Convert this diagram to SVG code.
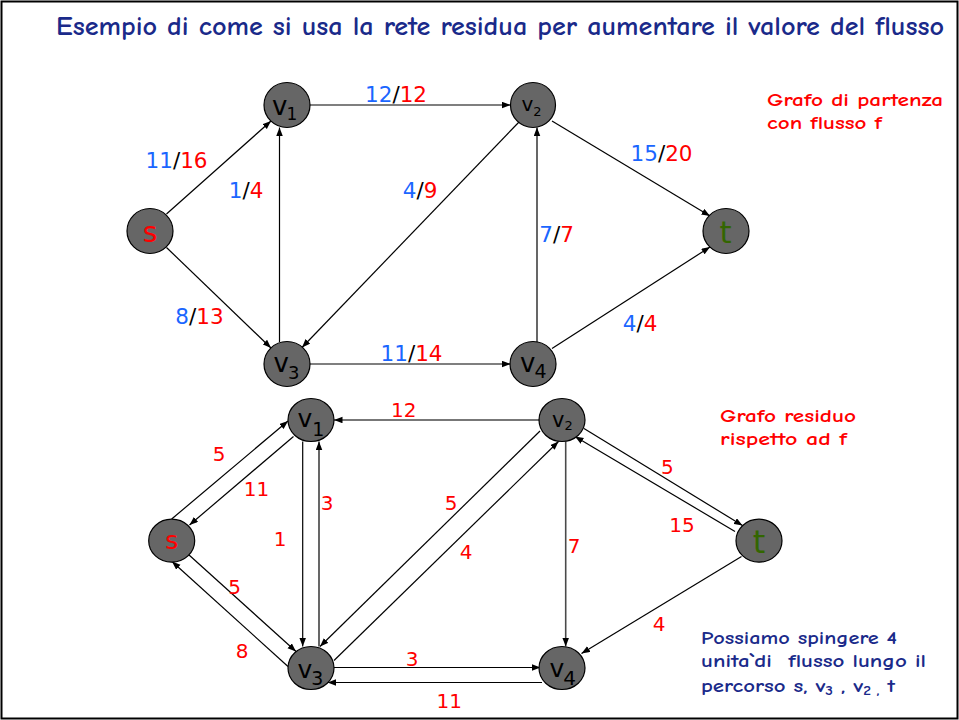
<svg xmlns="http://www.w3.org/2000/svg" width="959" height="720" viewBox="0 0 959 720">
<style>
.e{stroke:#000;stroke-width:1.2;fill:none;marker-end:url(#ah)}
.eg{stroke:#4a4a4a;stroke-width:1.6;fill:none;marker-end:url(#ah)}
.n{fill:#666666;stroke:#000;stroke-width:1.2}
.nl{font-family:"DejaVu Sans",Verdana,sans-serif;fill:#000}
.lb{font-family:"DejaVu Sans",Verdana,sans-serif;font-size:21.5px;text-anchor:middle;fill:#000}
.lr{font-family:"DejaVu Sans",Verdana,sans-serif;font-size:20px;text-anchor:middle;fill:#ff0000}
.b{fill:#1a66ff}
.r{fill:#ff0000}
.cm{font-family:"Comic Neue","Open Sans","DejaVu Sans",sans-serif;font-weight:700}
.nt{font-size:19px}
</style>
<defs>
<marker id="ah" markerUnits="userSpaceOnUse" markerWidth="9" markerHeight="7" refX="8.5" refY="3.25" orient="auto">
<path d="M0,0 L8.5,3.25 L0,6.5 z" fill="#000"/>
</marker>
</defs>
<rect x="1.5" y="1.5" width="956" height="717" fill="#fff" stroke="#000" stroke-width="2"/>
<text x="56" y="35" class="cm" font-size="27" fill="#1a2a8a" textLength="888" lengthAdjust="spacingAndGlyphs">Esempio di come si usa la rete residua per aumentare il valore del flusso</text>

<g id="edges">
<line class="e" x1="166.5" y1="214" x2="271" y2="121"/>
<line class="e" x1="166.5" y1="247.5" x2="271" y2="348"/>
<line class="e" x1="279.5" y1="342" x2="279.5" y2="127.5"/>
<line class="e" x1="309.5" y1="105" x2="510.5" y2="105"/>
<line class="e" x1="519" y1="122" x2="302" y2="347.5"/>
<line class="e" x1="309.5" y1="364" x2="510.5" y2="364"/>
<line class="e" x1="537" y1="342" x2="537" y2="127.5"/>
<line class="e" x1="552" y1="121" x2="710" y2="216"/>
<line class="e" x1="552" y1="348.5" x2="710" y2="247"/>

<line class="e" x1="171.7" y1="519" x2="288" y2="421"/>
<line class="e" x1="293.5" y1="436.5" x2="189.5" y2="525"/>
<line class="e" x1="302.7" y1="441.5" x2="302.7" y2="646.5"/>
<line class="e" x1="319" y1="646.5" x2="319" y2="441.5"/>
<line class="e" x1="188.5" y1="554.5" x2="296" y2="651.5"/>
<line class="e" x1="288" y1="666.5" x2="172" y2="561.5"/>
<line class="eg" x1="543" y1="420" x2="334" y2="420"/>
<line class="e" x1="540" y1="431" x2="320" y2="646.5"/>
<line class="e" x1="334" y1="660.5" x2="558.5" y2="441.5"/>
<line class="e" x1="334" y1="667.5" x2="540.5" y2="667.5"/>
<line class="e" x1="542" y1="682.5" x2="327.5" y2="682.5"/>
<line class="eg" x1="565.7" y1="441.5" x2="565.7" y2="646.5"/>
<line class="e" x1="584" y1="428.5" x2="742.5" y2="525.5"/>
<line class="e" x1="735" y1="531.5" x2="575" y2="436.5"/>
<line class="e" x1="741.5" y1="556.5" x2="581.5" y2="653.5"/>
</g>

<g id="edge-labels">
<text class="lb" x="396" y="101.5"><tspan class="b">12</tspan>/<tspan class="r">12</tspan></text>
<text class="lb" x="176.5" y="168"><tspan class="b">11</tspan>/<tspan class="r">16</tspan></text>
<text class="lb" x="246" y="198"><tspan class="b">1</tspan>/<tspan class="r">4</tspan></text>
<text class="lb" x="420" y="198"><tspan class="b">4</tspan>/<tspan class="r">9</tspan></text>
<text class="lb" x="556.5" y="241.5"><tspan class="b">7</tspan>/<tspan class="r">7</tspan></text>
<text class="lb" x="199.5" y="324"><tspan class="b">8</tspan>/<tspan class="r">13</tspan></text>
<text class="lb" x="411.5" y="360.5"><tspan class="b">11</tspan>/<tspan class="r">14</tspan></text>
<text class="lb" x="661.5" y="160.5"><tspan class="b">15</tspan>/<tspan class="r">20</tspan></text>
<text class="lb" x="640" y="330.5"><tspan class="b">4</tspan>/<tspan class="r">4</tspan></text>

<text class="lr" x="403.7" y="417.3">12</text>
<text class="lr" x="219" y="461">5</text>
<text class="lr" x="256.5" y="495.7">11</text>
<text class="lr" x="327" y="510">3</text>
<text class="lr" x="280" y="545.7">1</text>
<text class="lr" x="451" y="510">5</text>
<text class="lr" x="466" y="559">4</text>
<text class="lr" x="234.5" y="594">5</text>
<text class="lr" x="242" y="658">8</text>
<text class="lr" x="412" y="665.7">3</text>
<text class="lr" x="449.3" y="708">11</text>
<text class="lr" x="574" y="552.7">7</text>
<text class="lr" x="667.3" y="474">5</text>
<text class="lr" x="682" y="531.7">15</text>
<text class="lr" x="659" y="630.7">4</text>
</g>

<g id="top-s"><ellipse class="n" cx="150" cy="231" rx="23" ry="22.5"/><text class="nl" x="150" y="242" font-size="28" text-anchor="middle" style="fill:#ff0000">s</text></g>
<g id="top-v1"><ellipse class="n" cx="287" cy="105" rx="23" ry="22.5"/><text class="nl" x="272" y="115" font-size="26">v<tspan font-size="17" dy="5" dx="-1">1</tspan></text></g>
<g id="top-v2"><ellipse class="n" cx="533" cy="105" rx="22.5" ry="22.5"/><text class="nl" x="521.5" y="111" font-size="20">v<tspan font-size="13" dy="4.7">2</tspan></text></g>
<g id="top-v3"><ellipse class="n" cx="287" cy="364" rx="23" ry="22.5"/><text class="nl" x="273.5" y="372" font-size="26">v<tspan font-size="18" dy="7" dx="-1">3</tspan></text></g>
<g id="top-v4"><ellipse class="n" cx="533" cy="364" rx="23" ry="22.5"/><text class="nl" x="520" y="372" font-size="26">v<tspan font-size="19" dy="6" dx="-1">4</tspan></text></g>
<g id="top-t"><ellipse class="n" cx="726" cy="231" rx="23" ry="22.5"/><text class="nl" x="725.5" y="242.5" font-size="31" text-anchor="middle" style="fill:#336600">t</text></g>

<g id="res-s"><ellipse class="n" cx="171.7" cy="540.7" rx="23" ry="21.5"/><text class="nl" x="171.7" y="549.3" font-size="25" text-anchor="middle" style="fill:#ff0000">s</text></g>
<g id="res-v1"><ellipse class="n" cx="311" cy="420" rx="23" ry="21.5"/><text class="nl" x="297.5" y="427" font-size="25">v<tspan font-size="19" dy="8.5" dx="0">1</tspan></text></g>
<g id="res-v2"><ellipse class="n" cx="562" cy="420" rx="23" ry="21.5"/><text class="nl" x="552" y="427.3" font-size="21">v<tspan font-size="13" dy="2.7">2</tspan></text></g>
<g id="res-v3"><ellipse class="n" cx="311" cy="668" rx="23" ry="21.5"/><text class="nl" x="297.5" y="677.7" font-size="25">v<tspan font-size="19" dy="7.3" dx="-1">3</tspan></text></g>
<g id="res-v4"><ellipse class="n" cx="562" cy="668" rx="23" ry="21.5"/><text class="nl" x="549.5" y="677" font-size="25">v<tspan font-size="20" dy="8" dx="-1">4</tspan></text></g>
<g id="res-t"><ellipse class="n" cx="759" cy="540.7" rx="23" ry="21.5"/><text class="nl" x="759" y="553" font-size="32" text-anchor="middle" style="fill:#336600">t</text></g>

<g id="notes" class="cm">
<text class="nt" x="767" y="106" fill="#ff0000" textLength="176" lengthAdjust="spacingAndGlyphs">Grafo di partenza</text>
<text class="nt" x="767" y="128.5" fill="#ff0000" textLength="115" lengthAdjust="spacingAndGlyphs">con flusso f</text>
<text class="nt" x="720" y="422" fill="#ff0000" textLength="136" lengthAdjust="spacingAndGlyphs">Grafo residuo</text>
<text class="nt" x="720" y="445" fill="#ff0000" textLength="127" lengthAdjust="spacingAndGlyphs">rispetto ad f</text>
<text class="nt" x="701" y="644" fill="#1a2a8a" textLength="196" lengthAdjust="spacingAndGlyphs">Possiamo spingere 4</text>
<text class="nt" x="701" y="667" fill="#1a2a8a" textLength="225" lengthAdjust="spacingAndGlyphs" xml:space="preserve">unita`di  flusso lungo il</text>
<text class="nt" x="701" y="692" fill="#1a2a8a" textLength="194" lengthAdjust="spacingAndGlyphs">percorso s, v<tspan font-size="13" dy="3">3</tspan><tspan dy="-3"> , v</tspan><tspan font-size="13" dy="3">2 ,</tspan><tspan dy="-3"> t</tspan></text>
</g>
</svg>
